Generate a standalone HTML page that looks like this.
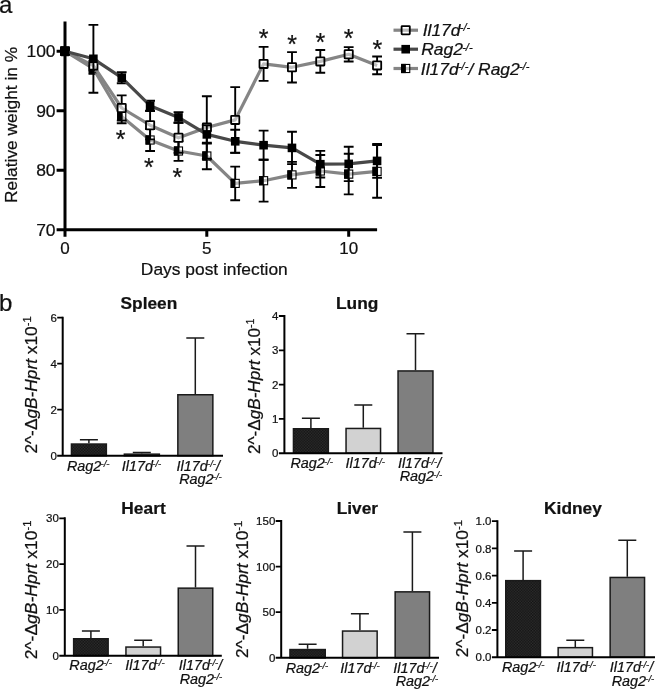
<!DOCTYPE html>
<html><head><meta charset="utf-8"><title>Figure</title>
<style>
html,body{margin:0;padding:0;background:#fff;}
svg{display:block;font-family:"Liberation Sans", sans-serif;fill:#111;}
svg text{fill:#111;stroke:#111;stroke-width:0.22px;}
</style></head><body>
<svg width="656" height="690" viewBox="0 0 656 690">
<defs>
<pattern id="dots" width="2.8" height="2.8" patternUnits="userSpaceOnUse">
<rect width="2.8" height="2.8" fill="#121212"/><rect width="1.4" height="1.4" fill="#2e2e2e"/><rect x="1.4" y="1.4" width="1.4" height="1.4" fill="#2e2e2e"/>
</pattern>
</defs>
<rect width="656" height="690" fill="#fff"/>
<g id="panel-a">
<path d="M65.0 21.5V236.8M56.6 229.8H377.1" stroke="#000" stroke-width="3.0" fill="none"/>
<path d="M56.6 51.2H65.0M56.6 110.7H65.0M56.6 170.3H65.0M206.8 229.8V236.8M348.7 229.8V236.8" stroke="#000" stroke-width="3.0" fill="none"/>
<text transform="translate(55.6,57.1) scale(1.06,1)" font-size="16.5" text-anchor="end">100</text>
<text transform="translate(55.6,116.6) scale(1.06,1)" font-size="16.5" text-anchor="end">90</text>
<text transform="translate(55.6,176.2) scale(1.06,1)" font-size="16.5" text-anchor="end">80</text>
<text transform="translate(55.6,235.7) scale(1.06,1)" font-size="16.5" text-anchor="end">70</text>
<text x="65.0" y="254" font-size="17" text-anchor="middle">0</text>
<text x="206.8" y="254" font-size="17" text-anchor="middle">5</text>
<text x="348.7" y="254" font-size="17" text-anchor="middle">10</text>
<text transform="translate(214.3,274.5) scale(1.024,1)" font-size="17" text-anchor="middle">Days post infection</text>
<text transform="translate(17,124.9) rotate(-90) scale(1.02,1)" font-size="17" text-anchor="middle">Relative weight in %</text>
<path d="M93.4 63.7V73.7M88.5 63.7H98.3M88.5 73.7H98.3M121.7 109.5V123.3M116.8 109.5H126.6M116.8 123.3H126.6M150.1 129.0V151.0M145.2 129.0H155.0M145.2 151.0H155.0M178.5 141.1V160.9M173.6 141.1H183.4M173.6 160.9H183.4M206.8 142.8V169.2M201.9 142.8H211.8M201.9 169.2H211.8M235.2 166.6V200.2M230.3 166.6H240.1M230.3 200.2H240.1M263.6 159.8V201.6M258.7 159.8H268.5M258.7 201.6H268.5M292.0 161.9V187.9M287.1 161.9H296.9M287.1 187.9H296.9M320.3 155.0V187.0M315.4 155.0H325.2M315.4 187.0H325.2M348.7 153.8V194.4M343.8 153.8H353.6M343.8 194.4H353.6M377.1 145.1V197.7M372.2 145.1H382.0M372.2 197.7H382.0" stroke="#000" stroke-width="1.9" fill="none"/>
<rect x="60.95" y="47.15" width="8.1" height="8.1" fill="#fff"/><rect x="89.32" y="64.65" width="8.1" height="8.1" fill="#fff"/><rect x="117.69" y="112.35" width="8.1" height="8.1" fill="#fff"/><rect x="146.06" y="135.95" width="8.1" height="8.1" fill="#fff"/><rect x="174.43" y="146.95" width="8.1" height="8.1" fill="#fff"/><rect x="202.80" y="151.95" width="8.1" height="8.1" fill="#fff"/><rect x="231.17" y="179.35" width="8.1" height="8.1" fill="#fff"/><rect x="259.54" y="176.65" width="8.1" height="8.1" fill="#fff"/><rect x="287.91" y="170.85" width="8.1" height="8.1" fill="#fff"/><rect x="316.28" y="166.95" width="8.1" height="8.1" fill="#fff"/><rect x="344.65" y="170.05" width="8.1" height="8.1" fill="#fff"/><rect x="373.02" y="167.35" width="8.1" height="8.1" fill="#fff"/>
<polyline points="65.0,51.2 93.4,68.7 121.7,116.4 150.1,140.0 178.5,151.0 206.8,156.0 235.2,183.4 263.6,180.7 292.0,174.9 320.3,171.0 348.7,174.1 377.1,171.4" fill="none" stroke="#858585" stroke-width="3.2" stroke-linejoin="round"/>
<rect x="60.95" y="47.15" width="8.1" height="8.1" fill="#fff" fill-opacity="0.45" stroke="#000" stroke-width="1.1"/><rect x="60.40" y="46.60" width="4.80" height="9.2" fill="#000"/><rect x="89.32" y="64.65" width="8.1" height="8.1" fill="#fff" fill-opacity="0.45" stroke="#000" stroke-width="1.1"/><rect x="88.77" y="64.10" width="4.80" height="9.2" fill="#000"/><rect x="117.69" y="112.35" width="8.1" height="8.1" fill="#fff" fill-opacity="0.45" stroke="#000" stroke-width="1.1"/><rect x="117.14" y="111.80" width="4.80" height="9.2" fill="#000"/><rect x="146.06" y="135.95" width="8.1" height="8.1" fill="#fff" fill-opacity="0.45" stroke="#000" stroke-width="1.1"/><rect x="145.51" y="135.40" width="4.80" height="9.2" fill="#000"/><rect x="174.43" y="146.95" width="8.1" height="8.1" fill="#fff" fill-opacity="0.45" stroke="#000" stroke-width="1.1"/><rect x="173.88" y="146.40" width="4.80" height="9.2" fill="#000"/><rect x="202.80" y="151.95" width="8.1" height="8.1" fill="#fff" fill-opacity="0.45" stroke="#000" stroke-width="1.1"/><rect x="202.25" y="151.40" width="4.80" height="9.2" fill="#000"/><rect x="231.17" y="179.35" width="8.1" height="8.1" fill="#fff" fill-opacity="0.45" stroke="#000" stroke-width="1.1"/><rect x="230.62" y="178.80" width="4.80" height="9.2" fill="#000"/><rect x="259.54" y="176.65" width="8.1" height="8.1" fill="#fff" fill-opacity="0.45" stroke="#000" stroke-width="1.1"/><rect x="258.99" y="176.10" width="4.80" height="9.2" fill="#000"/><rect x="287.91" y="170.85" width="8.1" height="8.1" fill="#fff" fill-opacity="0.45" stroke="#000" stroke-width="1.1"/><rect x="287.36" y="170.30" width="4.80" height="9.2" fill="#000"/><rect x="316.28" y="166.95" width="8.1" height="8.1" fill="#fff" fill-opacity="0.45" stroke="#000" stroke-width="1.1"/><rect x="315.73" y="166.40" width="4.80" height="9.2" fill="#000"/><rect x="344.65" y="170.05" width="8.1" height="8.1" fill="#fff" fill-opacity="0.45" stroke="#000" stroke-width="1.1"/><rect x="344.10" y="169.50" width="4.80" height="9.2" fill="#000"/><rect x="373.02" y="167.35" width="8.1" height="8.1" fill="#fff" fill-opacity="0.45" stroke="#000" stroke-width="1.1"/><rect x="372.47" y="166.80" width="4.80" height="9.2" fill="#000"/>
<path d="M93.4 60.6V70.6M88.5 60.6H98.3M88.5 70.6H98.3M121.7 95.4V120.6M116.8 95.4H126.6M116.8 120.6H126.6M150.1 111.0V139.4M145.2 111.0H155.0M145.2 139.4H155.0M178.5 122.8V152.8M173.6 122.8H183.4M173.6 152.8H183.4M206.8 96.3V158.7M201.9 96.3H211.8M201.9 158.7H211.8M235.2 87.1V152.7M230.3 87.1H240.1M230.3 152.7H240.1M263.6 46.9V80.9M258.7 46.9H268.5M258.7 80.9H268.5M292.0 52.1V82.5M287.1 52.1H296.9M287.1 82.5H296.9M320.3 50.0V72.8M315.4 50.0H325.2M315.4 72.8H325.2M348.7 47.1V61.5M343.8 47.1H353.6M343.8 61.5H353.6M377.1 56.5V74.3M372.2 56.5H382.0M372.2 74.3H382.0" stroke="#000" stroke-width="1.9" fill="none"/>
<rect x="60.9" y="47.1" width="8.2" height="8.2" fill="#fff"/><rect x="89.3" y="61.5" width="8.2" height="8.2" fill="#fff"/><rect x="117.6" y="103.9" width="8.2" height="8.2" fill="#fff"/><rect x="146.0" y="121.1" width="8.2" height="8.2" fill="#fff"/><rect x="174.4" y="133.7" width="8.2" height="8.2" fill="#fff"/><rect x="202.8" y="123.4" width="8.2" height="8.2" fill="#fff"/><rect x="231.1" y="115.8" width="8.2" height="8.2" fill="#fff"/><rect x="259.5" y="59.8" width="8.2" height="8.2" fill="#fff"/><rect x="287.9" y="63.2" width="8.2" height="8.2" fill="#fff"/><rect x="316.2" y="57.3" width="8.2" height="8.2" fill="#fff"/><rect x="344.6" y="50.2" width="8.2" height="8.2" fill="#fff"/><rect x="373.0" y="61.3" width="8.2" height="8.2" fill="#fff"/>
<polyline points="65.0,51.2 93.4,65.6 121.7,108.0 150.1,125.2 178.5,137.8 206.8,127.5 235.2,119.9 263.6,63.9 292.0,67.3 320.3,61.4 348.7,54.3 377.1,65.4" fill="none" stroke="#858585" stroke-width="3.2" stroke-linejoin="round"/>
<rect x="60.9" y="47.1" width="8.2" height="8.2" rx="0.5" fill="#fff" fill-opacity="0.45" stroke="#000" stroke-width="1.8"/><rect x="89.3" y="61.5" width="8.2" height="8.2" rx="0.5" fill="#fff" fill-opacity="0.45" stroke="#000" stroke-width="1.8"/><rect x="117.6" y="103.9" width="8.2" height="8.2" rx="0.5" fill="#fff" fill-opacity="0.45" stroke="#000" stroke-width="1.8"/><rect x="146.0" y="121.1" width="8.2" height="8.2" rx="0.5" fill="#fff" fill-opacity="0.45" stroke="#000" stroke-width="1.8"/><rect x="174.4" y="133.7" width="8.2" height="8.2" rx="0.5" fill="#fff" fill-opacity="0.45" stroke="#000" stroke-width="1.8"/><rect x="202.8" y="123.4" width="8.2" height="8.2" rx="0.5" fill="#fff" fill-opacity="0.45" stroke="#000" stroke-width="1.8"/><rect x="231.1" y="115.8" width="8.2" height="8.2" rx="0.5" fill="#fff" fill-opacity="0.45" stroke="#000" stroke-width="1.8"/><rect x="259.5" y="59.8" width="8.2" height="8.2" rx="0.5" fill="#fff" fill-opacity="0.45" stroke="#000" stroke-width="1.8"/><rect x="287.9" y="63.2" width="8.2" height="8.2" rx="0.5" fill="#fff" fill-opacity="0.45" stroke="#000" stroke-width="1.8"/><rect x="316.2" y="57.3" width="8.2" height="8.2" rx="0.5" fill="#fff" fill-opacity="0.45" stroke="#000" stroke-width="1.8"/><rect x="344.6" y="50.2" width="8.2" height="8.2" rx="0.5" fill="#fff" fill-opacity="0.45" stroke="#000" stroke-width="1.8"/><rect x="373.0" y="61.3" width="8.2" height="8.2" rx="0.5" fill="#fff" fill-opacity="0.45" stroke="#000" stroke-width="1.8"/>
<path d="M93.4 24.9V92.7M88.5 24.9H98.3M88.5 92.7H98.3M121.7 72.2V83.2M116.8 72.2H126.6M116.8 83.2H126.6M150.1 100.7V110.7M145.2 100.7H155.0M145.2 110.7H155.0M178.5 112.1V122.7M173.6 112.1H183.4M173.6 122.7H183.4M206.8 125.2V143.6M201.9 125.2H211.8M201.9 143.6H211.8M235.2 129.7V152.9M230.3 129.7H240.1M230.3 152.9H240.1M263.6 130.6V159.8M258.7 130.6H268.5M258.7 159.8H268.5M292.0 131.7V164.1M287.1 131.7H296.9M287.1 164.1H296.9M320.3 150.9V177.5M315.4 150.9H325.2M315.4 177.5H325.2M348.7 146.7V181.1M343.8 146.7H353.6M343.8 181.1H353.6M377.1 144.0V177.8M372.2 144.0H382.0M372.2 177.8H382.0" stroke="#000" stroke-width="1.9" fill="none"/>

<polyline points="65.0,51.2 93.4,58.8 121.7,77.7 150.1,105.7 178.5,117.4 206.8,134.4 235.2,141.3 263.6,145.2 292.0,147.9 320.3,164.2 348.7,163.9 377.1,160.9" fill="none" stroke="#484848" stroke-width="3.2" stroke-linejoin="round"/>
<rect x="60.70" y="46.90" width="8.6" height="8.6" fill="#000"/><rect x="89.07" y="54.50" width="8.6" height="8.6" fill="#000"/><rect x="117.44" y="73.40" width="8.6" height="8.6" fill="#000"/><rect x="145.81" y="101.40" width="8.6" height="8.6" fill="#000"/><rect x="174.18" y="113.10" width="8.6" height="8.6" fill="#000"/><rect x="202.55" y="130.10" width="8.6" height="8.6" fill="#000"/><rect x="230.92" y="137.00" width="8.6" height="8.6" fill="#000"/><rect x="259.29" y="140.90" width="8.6" height="8.6" fill="#000"/><rect x="287.66" y="143.60" width="8.6" height="8.6" fill="#000"/><rect x="316.03" y="159.90" width="8.6" height="8.6" fill="#000"/><rect x="344.40" y="159.60" width="8.6" height="8.6" fill="#000"/><rect x="372.77" y="156.60" width="8.6" height="8.6" fill="#000"/>
<text x="120.6" y="148.1" font-size="25" text-anchor="middle" stroke="none">*</text>
<text x="148.8" y="175.6" font-size="25" text-anchor="middle" stroke="none">*</text>
<text x="177.3" y="185.9" font-size="25" text-anchor="middle" stroke="none">*</text>
<text x="263.7" y="46.5" font-size="25" text-anchor="middle" stroke="none">*</text>
<text x="292.0" y="53.1" font-size="25" text-anchor="middle" stroke="none">*</text>
<text x="320.3" y="50.5" font-size="25" text-anchor="middle" stroke="none">*</text>
<text x="348.5" y="47.3" font-size="25" text-anchor="middle" stroke="none">*</text>
<text x="377.3" y="58.0" font-size="25" text-anchor="middle" stroke="none">*</text>
<path d="M393.5 30.2H418" stroke="#858585" stroke-width="3.2"/>
<rect x="401.6" y="26.1" width="8.2" height="8.2" rx="0.5" fill="#fff" fill-opacity="0.45" stroke="#000" stroke-width="1.8"/>
<path d="M393.5 49.2H418" stroke="#484848" stroke-width="3.2"/>
<rect x="401.40" y="44.90" width="8.6" height="8.6" fill="#000"/>
<path d="M393.5 68.5H418" stroke="#858585" stroke-width="3.2"/>
<rect x="401.65" y="64.45" width="8.1" height="8.1" fill="#fff" fill-opacity="0.45" stroke="#000" stroke-width="1.1"/><rect x="401.10" y="63.90" width="4.80" height="9.2" fill="#000"/>
<text transform="translate(422.7,35.6) scale(1.11,1)" font-size="15.7" font-style="italic">Il17d<tspan font-size="10" dy="-4.8" dx="-0.6">-/-</tspan></text>
<text transform="translate(421.2,55.3) scale(1.11,1)" font-size="15.7" font-style="italic">Rag2<tspan font-size="10" dy="-4.8" dx="-0.6">-/-</tspan></text>
<text transform="translate(420.8,74.7) scale(1.11,1)" font-size="15.7" font-style="italic">Il17d<tspan font-size="10" dy="-4.8" dx="-0.6">-/-</tspan><tspan dy="4.8">/ Rag2</tspan><tspan font-size="10" dy="-4.8" dx="-0.6">-/-</tspan></text>
</g>
<text x="-0.9" y="13.3" font-size="24" stroke="none">a</text>
<text x="-0.9" y="310.6" font-size="24" stroke="none">b</text>
<g id="spleen">
<path d="M88.9 443.3V439.8M79.9 439.8H97.9" stroke="#1a1a1a" stroke-width="1.5" fill="none"/>
<rect x="71.45" y="444.05" width="34.90" height="11.65" fill="url(#dots)" stroke="#1a1a1a" stroke-width="1.5"/>
<path d="M141.8 453.4V452.4M132.8 452.4H150.8" stroke="#1a1a1a" stroke-width="1.5" fill="none"/>
<rect x="124.35" y="454.15" width="35.00" height="1.55" fill="#d2d2d2" stroke="#1a1a1a" stroke-width="1.5"/>
<path d="M195.3 394.0V337.9M186.3 337.9H204.3" stroke="#1a1a1a" stroke-width="1.5" fill="none"/>
<rect x="177.85" y="394.75" width="35.00" height="60.95" fill="#7f7f7f" stroke="#1a1a1a" stroke-width="1.5"/>
<path d="M62.7 316.7V456.7M57.2 455.7H223" stroke="#000" stroke-width="2.0" fill="none"/>
<path d="M57.2 317.7H62.7M57.2 363.7H62.7M57.2 409.7H62.7" stroke="#000" stroke-width="1.8" fill="none"/>
<text x="56.8" y="321.8" font-size="11.5" text-anchor="end">6</text>
<text x="56.8" y="367.8" font-size="11.5" text-anchor="end">4</text>
<text x="56.8" y="413.8" font-size="11.5" text-anchor="end">2</text>
<text x="56.8" y="459.8" font-size="11.5" text-anchor="end">0</text>
<text transform="translate(148.9,309) scale(1.045,1)" font-size="16.6" font-weight="bold" text-anchor="middle">Spleen</text>
<text transform="translate(36.8,385.0) rotate(-90) scale(1.055,1)" font-size="16.4" stroke-width="0.12" text-anchor="middle">2^-Δ<tspan font-style="italic">gB-Hprt</tspan> x10<tspan font-size="10.6" dy="-5.6">-1</tspan></text>
<text x="88.2" y="470.8" font-size="14.4" font-style="italic" text-anchor="middle">Rag2<tspan font-size="9.5" dy="-3.7" dx="-0.8">-/-</tspan></text>
<text x="141.5" y="470.8" font-size="14.4" font-style="italic" text-anchor="middle">Il17d<tspan font-size="9.5" dy="-3.7" dx="-0.8">-/-</tspan></text>
<text x="198.3" y="470.8" font-size="14.4" font-style="italic" text-anchor="middle">Il17d<tspan font-size="9.5" dy="-3.7" dx="-0.8">-/-</tspan><tspan dy="3.7">/</tspan></text>
<text x="200.5" y="483.7" font-size="14.4" font-style="italic" text-anchor="middle">Rag2<tspan font-size="9.5" dy="-3.7" dx="-0.8">-/-</tspan></text>
</g>
<g id="lung">
<path d="M310.9 428.0V418.2M301.9 418.2H319.9" stroke="#1a1a1a" stroke-width="1.5" fill="none"/>
<rect x="293.45" y="428.75" width="34.90" height="24.45" fill="url(#dots)" stroke="#1a1a1a" stroke-width="1.5"/>
<path d="M363.3 427.7V404.9M354.3 404.9H372.3" stroke="#1a1a1a" stroke-width="1.5" fill="none"/>
<rect x="346.05" y="428.45" width="34.50" height="24.75" fill="#d2d2d2" stroke="#1a1a1a" stroke-width="1.5"/>
<path d="M415.5 370.2V333.7M406.5 333.7H424.5" stroke="#1a1a1a" stroke-width="1.5" fill="none"/>
<rect x="398.05" y="370.95" width="34.90" height="82.25" fill="#7f7f7f" stroke="#1a1a1a" stroke-width="1.5"/>
<path d="M284.4 315.0V454.2M278.9 453.2H442.5" stroke="#000" stroke-width="2.0" fill="none"/>
<path d="M278.9 316.0H284.4M278.9 350.3H284.4M278.9 384.6H284.4M278.9 418.9H284.4" stroke="#000" stroke-width="1.8" fill="none"/>
<text x="278.5" y="320.1" font-size="11.5" text-anchor="end">4</text>
<text x="278.5" y="354.4" font-size="11.5" text-anchor="end">3</text>
<text x="278.5" y="388.7" font-size="11.5" text-anchor="end">2</text>
<text x="278.5" y="423.0" font-size="11.5" text-anchor="end">1</text>
<text x="278.5" y="457.3" font-size="11.5" text-anchor="end">0</text>
<text transform="translate(357.2,309.2) scale(1.045,1)" font-size="16.6" font-weight="bold" text-anchor="middle">Lung</text>
<text transform="translate(259.6,386.3) rotate(-90) scale(0.99,1)" font-size="17.3" stroke-width="0.12" text-anchor="middle">2^-Δ<tspan font-style="italic">gB-Hprt</tspan> x10<tspan font-size="10.6" dy="-5.6">-1</tspan></text>
<text x="311.7" y="468.2" font-size="14.4" font-style="italic" text-anchor="middle">Rag2<tspan font-size="9.5" dy="-3.7" dx="-0.8">-/-</tspan></text>
<text x="365.3" y="468.2" font-size="14.4" font-style="italic" text-anchor="middle">Il17d<tspan font-size="9.5" dy="-3.7" dx="-0.8">-/-</tspan></text>
<text x="419.6" y="468.2" font-size="14.4" font-style="italic" text-anchor="middle">Il17d<tspan font-size="9.5" dy="-3.7" dx="-0.8">-/-</tspan><tspan dy="3.7">/</tspan></text>
<text x="421" y="481.4" font-size="14.4" font-style="italic" text-anchor="middle">Rag2<tspan font-size="9.5" dy="-3.7" dx="-0.8">-/-</tspan></text>
</g>
<g id="heart">
<path d="M90.9 638.0V631.0M81.9 631.0H99.9" stroke="#1a1a1a" stroke-width="1.5" fill="none"/>
<rect x="73.65" y="638.75" width="34.50" height="16.95" fill="url(#dots)" stroke="#1a1a1a" stroke-width="1.5"/>
<path d="M143.2 646.3V640.2M134.2 640.2H152.2" stroke="#1a1a1a" stroke-width="1.5" fill="none"/>
<rect x="125.95" y="647.05" width="34.60" height="8.65" fill="#d2d2d2" stroke="#1a1a1a" stroke-width="1.5"/>
<path d="M195.5 587.4V546.1M186.5 546.1H204.5" stroke="#1a1a1a" stroke-width="1.5" fill="none"/>
<rect x="178.25" y="588.15" width="34.50" height="67.55" fill="#7f7f7f" stroke="#1a1a1a" stroke-width="1.5"/>
<path d="M64.8 517.3V656.7M59.3 655.7H221.8" stroke="#000" stroke-width="2.0" fill="none"/>
<path d="M59.3 518.3H64.8M59.3 564.1H64.8M59.3 609.9H64.8" stroke="#000" stroke-width="1.8" fill="none"/>
<text x="58.9" y="522.4" font-size="11.5" text-anchor="end">30</text>
<text x="58.9" y="568.2" font-size="11.5" text-anchor="end">20</text>
<text x="58.9" y="614.0" font-size="11.5" text-anchor="end">10</text>
<text x="58.9" y="659.8" font-size="11.5" text-anchor="end">0</text>
<text transform="translate(143.5,514) scale(1.045,1)" font-size="16.6" font-weight="bold" text-anchor="middle">Heart</text>
<text transform="translate(37,590) rotate(-90) scale(1.06,1)" font-size="16.5" stroke-width="0.12" text-anchor="middle">2^-Δ<tspan font-style="italic">gB-Hprt</tspan> x10<tspan font-size="10.6" dy="-5.6">-1</tspan></text>
<text x="90.6" y="670" font-size="14.4" font-style="italic" text-anchor="middle">Rag2<tspan font-size="9.5" dy="-3.7" dx="-0.8">-/-</tspan></text>
<text x="144.9" y="670" font-size="14.4" font-style="italic" text-anchor="middle">Il17d<tspan font-size="9.5" dy="-3.7" dx="-0.8">-/-</tspan></text>
<text x="200.5" y="670" font-size="14.4" font-style="italic" text-anchor="middle">Il17d<tspan font-size="9.5" dy="-3.7" dx="-0.8">-/-</tspan><tspan dy="3.7">/</tspan></text>
<text x="201" y="683.6" font-size="14.4" font-style="italic" text-anchor="middle">Rag2<tspan font-size="9.5" dy="-3.7" dx="-0.8">-/-</tspan></text>
</g>
<g id="liver">
<path d="M307.6 648.8V644.3M298.6 644.3H316.6" stroke="#1a1a1a" stroke-width="1.5" fill="none"/>
<rect x="289.95" y="649.55" width="35.30" height="8.25" fill="url(#dots)" stroke="#1a1a1a" stroke-width="1.5"/>
<path d="M359.9 630.3V613.8M350.9 613.8H368.9" stroke="#1a1a1a" stroke-width="1.5" fill="none"/>
<rect x="342.55" y="631.05" width="34.60" height="26.75" fill="#d2d2d2" stroke="#1a1a1a" stroke-width="1.5"/>
<path d="M412.4 591.1V532.1M403.4 532.1H421.4" stroke="#1a1a1a" stroke-width="1.5" fill="none"/>
<rect x="395.15" y="591.85" width="34.40" height="65.95" fill="#7f7f7f" stroke="#1a1a1a" stroke-width="1.5"/>
<path d="M281.2 520.0V658.8M275.7 657.8H439" stroke="#000" stroke-width="2.0" fill="none"/>
<path d="M275.7 521.0H281.2M275.7 566.6H281.2M275.7 612.2H281.2" stroke="#000" stroke-width="1.8" fill="none"/>
<text x="275.3" y="525.1" font-size="11.5" text-anchor="end">150</text>
<text x="275.3" y="570.7" font-size="11.5" text-anchor="end">100</text>
<text x="275.3" y="616.3" font-size="11.5" text-anchor="end">50</text>
<text x="275.3" y="661.9" font-size="11.5" text-anchor="end">0</text>
<text transform="translate(357.4,514) scale(1.045,1)" font-size="16.6" font-weight="bold" text-anchor="middle">Liver</text>
<text transform="translate(248.0,589.4) rotate(-90) scale(1.055,1)" font-size="16.4" stroke-width="0.12" text-anchor="middle">2^-Δ<tspan font-style="italic">gB-Hprt</tspan> x10<tspan font-size="10.6" dy="-5.6">-1</tspan></text>
<text x="307" y="673" font-size="14.4" font-style="italic" text-anchor="middle">Rag2<tspan font-size="9.5" dy="-3.7" dx="-0.8">-/-</tspan></text>
<text x="360" y="673" font-size="14.4" font-style="italic" text-anchor="middle">Il17d<tspan font-size="9.5" dy="-3.7" dx="-0.8">-/-</tspan></text>
<text x="415" y="673" font-size="14.4" font-style="italic" text-anchor="middle">Il17d<tspan font-size="9.5" dy="-3.7" dx="-0.8">-/-</tspan><tspan dy="3.7">/</tspan></text>
<text x="417" y="686" font-size="14.4" font-style="italic" text-anchor="middle">Rag2<tspan font-size="9.5" dy="-3.7" dx="-0.8">-/-</tspan></text>
</g>
<g id="kidney">
<path d="M523.1 579.9V551.0M514.1 551.0H532.1" stroke="#1a1a1a" stroke-width="1.5" fill="none"/>
<rect x="505.75" y="580.65" width="34.70" height="76.55" fill="url(#dots)" stroke="#1a1a1a" stroke-width="1.5"/>
<path d="M575.3 646.9V640.2M566.3 640.2H584.3" stroke="#1a1a1a" stroke-width="1.5" fill="none"/>
<rect x="558.15" y="647.65" width="34.30" height="9.55" fill="#d2d2d2" stroke="#1a1a1a" stroke-width="1.5"/>
<path d="M627.3 576.7V540.3M618.3 540.3H636.3" stroke="#1a1a1a" stroke-width="1.5" fill="none"/>
<rect x="610.15" y="577.45" width="34.40" height="79.75" fill="#7f7f7f" stroke="#1a1a1a" stroke-width="1.5"/>
<path d="M497.4 520.2V658.2M491.9 657.2H655" stroke="#000" stroke-width="2.0" fill="none"/>
<path d="M491.9 521.2H497.4M491.9 548.4H497.4M491.9 575.6H497.4M491.9 602.8H497.4M491.9 630.0H497.4" stroke="#000" stroke-width="1.8" fill="none"/>
<text x="491.5" y="525.3" font-size="11.5" text-anchor="end">1.0</text>
<text x="491.5" y="552.5" font-size="11.5" text-anchor="end">0.8</text>
<text x="491.5" y="579.7" font-size="11.5" text-anchor="end">0.6</text>
<text x="491.5" y="606.9" font-size="11.5" text-anchor="end">0.4</text>
<text x="491.5" y="634.1" font-size="11.5" text-anchor="end">0.2</text>
<text x="491.5" y="661.3" font-size="11.5" text-anchor="end">0.0</text>
<text transform="translate(573,514) scale(1.045,1)" font-size="16.6" font-weight="bold" text-anchor="middle">Kidney</text>
<text transform="translate(467.9,588.7) rotate(-90) scale(1.055,1)" font-size="16.4" stroke-width="0.12" text-anchor="middle">2^-Δ<tspan font-style="italic">gB-Hprt</tspan> x10<tspan font-size="10.6" dy="-5.6">-1</tspan></text>
<text x="523.2" y="671.7" font-size="14.4" font-style="italic" text-anchor="middle">Rag2<tspan font-size="9.5" dy="-3.7" dx="-0.8">-/-</tspan></text>
<text x="576.2" y="671.7" font-size="14.4" font-style="italic" text-anchor="middle">Il17d<tspan font-size="9.5" dy="-3.7" dx="-0.8">-/-</tspan></text>
<text x="631.5" y="671.7" font-size="14.4" font-style="italic" text-anchor="middle">Il17d<tspan font-size="9.5" dy="-3.7" dx="-0.8">-/-</tspan><tspan dy="3.7">/</tspan></text>
<text x="633" y="685.6" font-size="14.4" font-style="italic" text-anchor="middle">Rag2<tspan font-size="9.5" dy="-3.7" dx="-0.8">-/-</tspan></text>
</g>
</svg>
</body></html>
